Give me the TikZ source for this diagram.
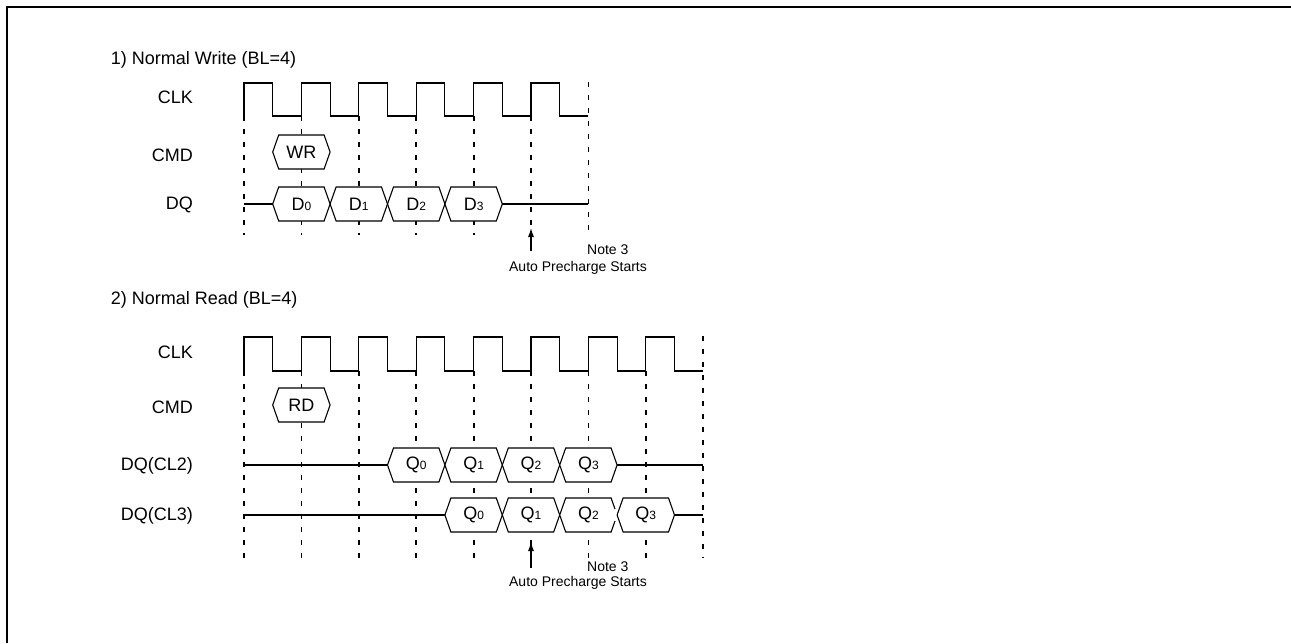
\documentclass[tikz,border=0pt]{standalone}
\usepackage{fontspec}
\setmainfont{Liberation Sans}
\usetikzlibrary{arrows.meta}
\newcommand{\dqidx}[1]{{\fontsize{12}{12}\selectfont #1}}

\begin{document}
\begin{tikzpicture}[x=1pt,y=-1pt, % <- pixel units, y downwards
   wire/.style={line width=1.1pt},
   guide/.style={line width=1.8pt,dash pattern=on 5pt off 8pt},
   hexbox/.style={line width=1.1pt,fill=white},
   ttl/.style={anchor=west,inner sep=0pt,font=\fontsize{18}{20}\selectfont},
   lbl/.style={anchor=east,inner sep=0pt,font=\fontsize{18}{20}\selectfont},
   val/.style={inner sep=0pt,font=\fontsize{18}{20}\selectfont},
   note/.style={inner sep=0pt,font=\fontsize{14}{16}\selectfont},
   uparrow/.style={line width=1.1pt,-{Latex[length=9pt,width=6pt]}}]
   \useasboundingbox (0,0) rectangle (1291,643);
   % Frame (top and left edge)
   \draw [line width=1.8pt] (7,643) -- (7,7) -- (1291,7);

   % ---------- 1) Normal Write ----------
   \node [ttl] (ttlW) at (110.7,60) {1) Normal Write (BL=4)};
   \node [lbl] (clkW) at (193,97) {CLK};
   \node [lbl] (cmdW) at (193,155) {CMD};
   \node [lbl] (dqW) at (193,205) {DQ};
   % Clock edges (dashed)
   \draw [guide] (244,116) -- (244,235);
   \draw [guide] (301.4,116) -- (301.4,235);
   \draw [guide] (358.8,116) -- (358.8,235);
   \draw [guide] (416.2,116) -- (416.2,235);
   \draw [guide] (473.6,116) -- (473.6,235);
   \draw [guide] (531,116) -- (531,235);
   \draw [guide] (588.4,82) -- (588.4,235);
   % Clock
   \draw [wire] (244,116) -- (244,83) -- (272.7,83) -- (272.7,116) -- (301.4,116)
      -- (301.4,83) -- (330.1,83) -- (330.1,116) -- (358.8,116) -- (358.8,83)
      -- (387.5,83) -- (387.5,116) -- (416.2,116) -- (416.2,83) -- (444.9,83)
      -- (444.9,116) -- (473.6,116) -- (473.6,83) -- (502.3,83) -- (502.3,116)
      -- (531,116) -- (531,83) -- (559.7,83) -- (559.7,116) -- (588.4,116);
   % Command
   \draw [hexbox] (272.7,152) -- (278.7,135) -- (324.1,135) -- (330.1,152) -- (324.1,169) -- (278.7,169) -- cycle;
   \node [val] (wr) at (301.4,152) {WR};
   % Data
   \draw [wire] (244,204) -- (272.7,204);
   \draw [wire] (502.3,204) -- (588.4,204);
   \draw [hexbox] (272.7,204) -- (278.7,187) -- (324.1,187) -- (330.1,204) -- (324.1,221) -- (278.7,221) -- cycle;
   \draw [hexbox] (330.1,204) -- (336.1,187) -- (381.5,187) -- (387.5,204) -- (381.5,221) -- (336.1,221) -- cycle;
   \draw [hexbox] (387.5,204) -- (393.5,187) -- (438.9,187) -- (444.9,204) -- (438.9,221) -- (393.5,221) -- cycle;
   \draw [hexbox] (444.9,204) -- (450.9,187) -- (496.3,187) -- (502.3,204) -- (496.3,221) -- (450.9,221) -- cycle;
   \node [val] (d0) at (301.4,204) {D\dqidx{0}};
   \node [val] (d1) at (358.8,204) {D\dqidx{1}};
   \node [val] (d2) at (416.2,204) {D\dqidx{2}};
   \node [val] (d3) at (473.6,204) {D\dqidx{3}};
   % Note
   \coordinate (tailW) at (531,251);
   \coordinate (tipW) at (531,228);
   \draw [uparrow] (tailW) -- (tipW);
   \node [note,anchor=west] (noteW) at (587,250) {Note 3};
   \node [note] (autoW) at (578,268) {Auto Precharge Starts};

   % ---------- 2) Normal Read ----------
   \node [ttl] (ttlR) at (110.7,300) {2) Normal Read (BL=4)};
   \node [lbl] (clkR) at (193,352) {CLK};
   \node [lbl] (cmdR) at (193,407) {CMD};
   \node [lbl] (dqa) at (193,466) {DQ(CL2)};
   \node [lbl] (dqb) at (193,516) {DQ(CL3)};
   % Clock edges (dashed)
   \draw [guide] (244,371) -- (244,558);
   \draw [guide] (301.4,371) -- (301.4,558);
   \draw [guide] (358.8,371) -- (358.8,558);
   \draw [guide] (416.2,371) -- (416.2,558);
   \draw [guide] (473.6,371) -- (473.6,558);
   \draw [guide] (531,371) -- (531,558);
   \draw [guide] (588.4,371) -- (588.4,558);
   \draw [guide] (645.8,371) -- (645.8,558);
   \draw [guide] (703.2,336) -- (703.2,558);
   % Clock
   \draw [wire] (244,371) -- (244,337) -- (272.7,337) -- (272.7,371) -- (301.4,371)
      -- (301.4,337) -- (330.1,337) -- (330.1,371) -- (358.8,371) -- (358.8,337)
      -- (387.5,337) -- (387.5,371) -- (416.2,371) -- (416.2,337) -- (444.9,337)
      -- (444.9,371) -- (473.6,371) -- (473.6,337) -- (502.3,337) -- (502.3,371)
      -- (531,371) -- (531,337) -- (559.7,337) -- (559.7,371) -- (588.4,371)
      -- (588.4,337) -- (617.1,337) -- (617.1,371) -- (645.8,371) -- (645.8,337)
      -- (674.5,337) -- (674.5,371) -- (703.2,371);
   % Command
   \draw [hexbox] (272.7,405) -- (278.7,388) -- (324.1,388) -- (330.1,405) -- (324.1,422) -- (278.7,422) -- cycle;
   \node [val] (rd) at (301.4,405) {RD};
   % Data, CL=2
   \draw [wire] (244,465) -- (387.5,465);
   \draw [wire] (617.1,465) -- (703.2,465);
   \draw [hexbox] (387.5,465) -- (393.5,448) -- (438.9,448) -- (444.9,465) -- (438.9,482) -- (393.5,482) -- cycle;
   \draw [hexbox] (444.9,465) -- (450.9,448) -- (496.3,448) -- (502.3,465) -- (496.3,482) -- (450.9,482) -- cycle;
   \draw [hexbox] (502.3,465) -- (508.3,448) -- (553.7,448) -- (559.7,465) -- (553.7,482) -- (508.3,482) -- cycle;
   \draw [hexbox] (559.7,465) -- (565.7,448) -- (611.1,448) -- (617.1,465) -- (611.1,482) -- (565.7,482) -- cycle;
   \node [val] (qa0) at (416.2,465) {Q\dqidx{0}};
   \node [val] (qa1) at (473.6,465) {Q\dqidx{1}};
   \node [val] (qa2) at (531,465) {Q\dqidx{2}};
   \node [val] (qa3) at (588.4,465) {Q\dqidx{3}};
   % Data, CL=3
   \draw [wire] (244,515) -- (444.9,515);
   \draw [wire] (674.5,515) -- (703.2,515);
   \draw [hexbox] (444.9,515) -- (450.9,498) -- (496.3,498) -- (502.3,515) -- (496.3,532) -- (450.9,532) -- cycle;
   \draw [hexbox] (502.3,515) -- (508.3,498) -- (553.7,498) -- (559.7,515) -- (553.7,532) -- (508.3,532) -- cycle;
   \fill [white] (559.7,515) -- (565.7,498) -- (611.1,498) -- (615,509) -- (615,521) -- (611.1,532) -- (565.7,532) -- cycle;
   \draw [wire] (615,509) -- (611.1,498) -- (565.7,498) -- (559.7,515) -- (565.7,532) -- (611.1,532) -- (615,521);
   \draw [hexbox] (617.1,515) -- (623.1,498) -- (668.5,498) -- (674.5,515) -- (668.5,532) -- (623.1,532) -- cycle;
   \node [val] (qb0) at (473.6,515) {Q\dqidx{0}};
   \node [val] (qb1) at (531,515) {Q\dqidx{1}};
   \node [val] (qb2) at (588.4,515) {Q\dqidx{2}};
   \node [val] (qb3) at (645.8,515) {Q\dqidx{3}};
   % Note
   \coordinate (tailR) at (531,568);
   \coordinate (tipR) at (531,542);
   \draw [uparrow] (tailR) -- (tipR);
   \node [note,anchor=west] (noteR) at (587,567) {Note 3};
   \node [note] (autoR) at (578,583) {Auto Precharge Starts};
\end{tikzpicture}
\end{document}
